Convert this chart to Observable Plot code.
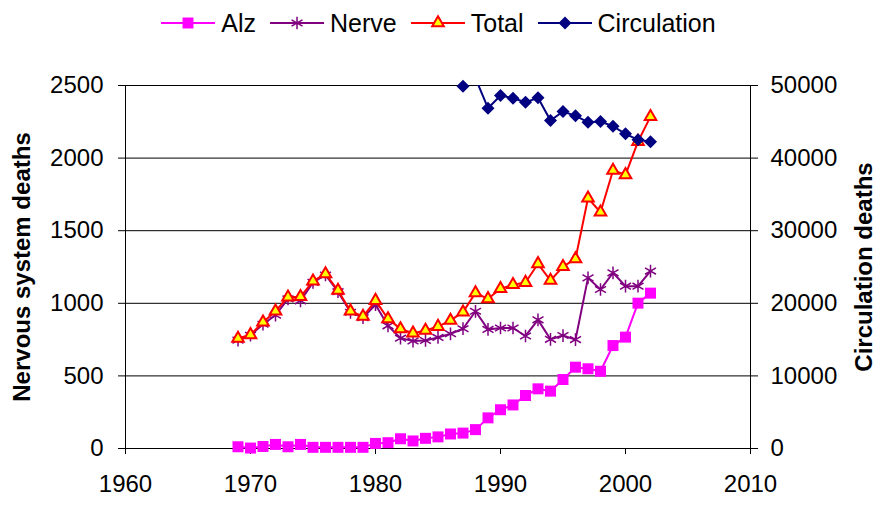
<!DOCTYPE html>
<html>
<head>
<meta charset="utf-8">
<script src="https://cdn.jsdelivr.net/npm/d3@7"></script>
<script src="https://cdn.jsdelivr.net/npm/@observablehq/plot@0.6"></script>
<style>
  body { margin: 0; background: #fff; font-family: "Liberation Sans", Arial, sans-serif; }
  #legend { height: 46px; display: flex; justify-content: center; align-items: center; }
  .item { display: flex; align-items: center; margin: 0 7px 0 7px; }
  .item svg { display: block; margin-right: 6px; }
  .item span { font-size: 25px; color: #000; line-height: 1; }
</style>
</head>
<body>
<div id="legend"></div>
<div id="chart"></div>
<script>
const years = [1969, 1970, 1971, 1972, 1973, 1974, 1975, 1976, 1977, 1978, 1979, 1980,
  1981, 1982, 1983, 1984, 1985, 1986, 1987, 1988, 1989, 1990, 1991, 1992,
  1993, 1994, 1995, 1996, 1997, 1998, 1999, 2000, 2001, 2002];
const alz = [12, 3, 14, 28, 12, 28, 8, 8, 8, 8, 8, 35,
  40, 67, 52, 70, 80, 100, 106, 130, 211, 267, 300, 365,
  411, 395, 475, 560, 549, 532, 709, 767, 1001, 1070];
const nerve = [746, 780, 856, 918, 1030, 1017, 1144, 1195, 1080, 938, 901, 990,
  845, 760, 740, 744, 765, 790, 825, 945, 820, 830, 830, 775,
  886, 752, 778, 750, 1175, 1095, 1210, 1118, 1118, 1222];
const total = [758, 783, 870, 946, 1042, 1045, 1152, 1203, 1088, 946, 909, 1019,
  893, 824, 794, 813, 840, 882, 939, 1072, 1031, 1100, 1128, 1143,
  1272, 1157, 1253, 1306, 1724, 1627, 1915, 1885, 2114, 2286];
const circYears = [1987, 1988, 1989, 1990, 1991, 1992, 1993, 1994, 1995, 1996,
  1997, 1998, 1999, 2000, 2001, 2002];
const circulation = [49900, 51000, 46870, 48620, 48250, 47700, 48300, 45180, 46420, 45820,
  44950, 45040, 44390, 43340, 42520, 42250];

const xTicks = [1960, 1970, 1980, 1990, 2000, 2010];
const leftTicks = [0, 500, 1000, 1500, 2000, 2500];
const rightTicks = [0, 10000, 20000, 30000, 40000, 50000];
const seriesNames = ["Alz", "Nerve", "Total", "Circulation"];
const leftTitle = "Nervous system deaths";
const rightTitle = "Circulation deaths";

const leftMax = leftTicks[leftTicks.length - 1];
const rightMax = rightTicks[rightTicks.length - 1];
const circScale = rightMax / leftMax;

const styles = {
  Alz: {stroke: "#FF00FF", fill: "#FF00FF", symbol: d3.symbolSquare, size: Math.PI * 6.2 * 6.2, sw: 0},
  Nerve: {stroke: "#800080", fill: "none", symbol: d3.symbolAsterisk, size: Math.PI * 6 * 6, sw: 1.5},
  Total: {stroke: "#FF0000", fill: "#FFFF00", symbol: d3.symbolTriangle, size: Math.PI * 4.3 * 4.3, sw: 2},
  Circulation: {stroke: "#000080", fill: "#000080", symbol: d3.symbolDiamond2, size: Math.PI * 5.85 * 5.85, sw: 0}
};

// legend
const legend = d3.select("#legend");
seriesNames.forEach(name => {
  const s = styles[name];
  const item = legend.append("div").attr("class", "item");
  const svg = item.append("svg").attr("width", 54).attr("height", 24);
  svg.append("line").attr("x1", 0).attr("x2", 54).attr("y1", 12).attr("y2", 12)
    .attr("stroke", s.stroke).attr("stroke-width", 2);
  svg.append("path").attr("transform", "translate(27,12)")
    .attr("d", d3.symbol(s.symbol, s.size)())
    .attr("fill", s.fill).attr("stroke", s.sw ? s.stroke : "none").attr("stroke-width", s.sw);
  item.append("span").text(name);
});

const rows = years.map((y, i) => ({year: y, alz: alz[i], nerve: nerve[i], total: total[i]}));
const circ = circYears.map((y, i) => ({year: y, value: circulation[i]}));

const chart = Plot.plot({
  width: 877,
  height: 459,
  marginTop: 39,
  marginBottom: 57,
  marginLeft: 125,
  marginRight: 127,
  style: {fontFamily: "'Liberation Sans', Arial, sans-serif", fontSize: "24px", background: "white", color: "black"},
  x: {domain: [xTicks[0], xTicks[xTicks.length - 1]]},
  y: {domain: [leftTicks[0], leftMax]},
  marks: [
    Plot.gridY(leftTicks, {stroke: "black", strokeOpacity: 1}),
    Plot.frame({stroke: "black"}),
    Plot.axisX(xTicks, {tickFormat: "d", tickSize: 6, tickPadding: 20, label: null}),
    Plot.axisY(leftTicks, {anchor: "left", tickSize: 7, tickPadding: 15, label: null, tickFormat: "d"}),
    Plot.axisY(leftTicks, {anchor: "right", tickSize: 7, tickPadding: 13, label: null,
      tickFormat: d => String(rightTicks[leftTicks.indexOf(d)])}),
    Plot.text([leftTitle], {frameAnchor: "left", dx: -103, rotate: -90, textAnchor: "middle", fontWeight: "bold", fontSize: 24}),
    Plot.text([rightTitle], {frameAnchor: "right", dx: 114, rotate: -90, textAnchor: "middle", fontWeight: "bold", fontSize: 24}),
    Plot.line(rows, {x: "year", y: "alz", stroke: styles.Alz.stroke, strokeWidth: 2}),
    Plot.dot(rows, {x: "year", y: "alz", symbol: "square", r: 6.2, fill: styles.Alz.fill, stroke: "none"}),
    Plot.line(rows, {x: "year", y: "nerve", stroke: styles.Nerve.stroke, strokeWidth: 2}),
    Plot.dot(rows, {x: "year", y: "nerve", symbol: "asterisk", r: 6, stroke: styles.Nerve.stroke, strokeWidth: 1.5}),
    Plot.line(rows, {x: "year", y: "total", stroke: styles.Total.stroke, strokeWidth: 2}),
    Plot.dot(rows, {x: "year", y: "total", symbol: "triangle", r: 4.3, fill: styles.Total.fill, stroke: styles.Total.stroke, strokeWidth: 2}),
    Plot.line(circ, {x: "year", y: d => d.value / circScale, stroke: styles.Circulation.stroke, strokeWidth: 2, clip: true}),
    // markers beyond the axis maximum are not drawn (as in the original spreadsheet chart)
    Plot.dot(circ, {filter: d => d.value <= rightMax, x: "year", y: d => d.value / circScale, symbol: "diamond2", r: 5.85, fill: styles.Circulation.fill, stroke: "none"})
  ]
});
document.getElementById("chart").appendChild(chart);
</script>
</body>
</html>
